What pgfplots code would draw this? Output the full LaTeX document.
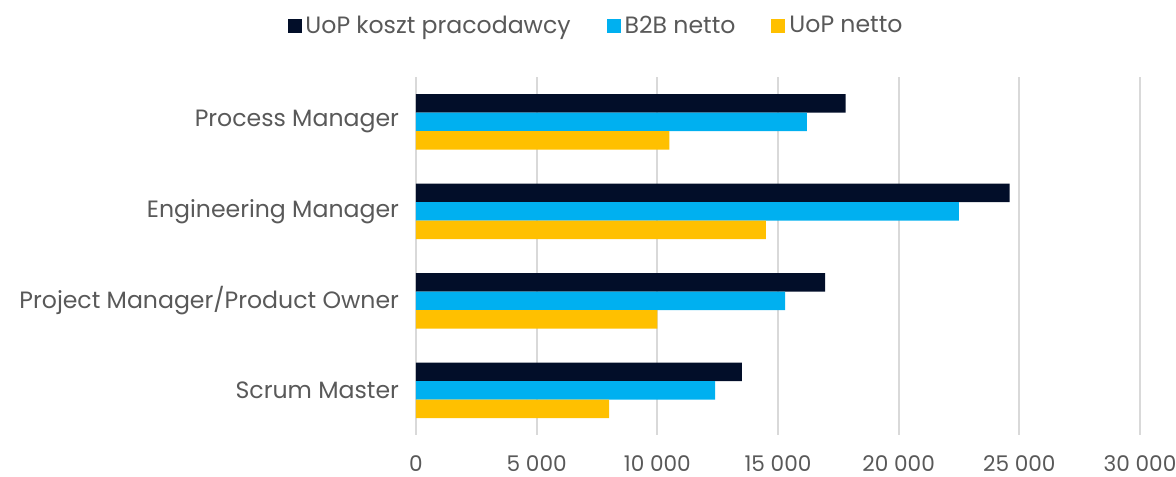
\documentclass[border=0pt]{standalone}
\usepackage{pgfplots}
\pgfplotsset{compat=1.18}
\usepackage{fontspec}
\setmainfont{Poppins}
\definecolor{cdark}{HTML}{020E29}
\definecolor{cblue}{HTML}{00B0F0}
\definecolor{cyell}{HTML}{FFC000}
\definecolor{ctext}{HTML}{595959}
\definecolor{cgrid}{HTML}{D9D9D9}
\begin{document}
\begin{tikzpicture}
\begin{axis}[
  name=ax,
  at={(0,0)}, anchor=south west,
  scale only axis,
  width=362bp, height=179bp,
  xbar, bar width=9.25bp,
  xmin=0, xmax=30000,
  ymin=-0.5, ymax=3.5,
  y dir=reverse,
  ytick={0,1,2,3},
  yticklabels={Process Manager, Engineering Manager, Project Manager/Product Owner, Scrum Master},
  xtick={0,5000,10000,15000,20000,25000,30000},
  scaled x ticks=false,
  /pgf/number format/1000 sep={\ },
  /pgf/number format/assume math mode=true,
  xticklabel style={font=\fontsize{10.8bp}{12bp}\selectfont, text=ctext, yshift=-7bp},
  yticklabel style={font=\fontsize{11.8bp}{13bp}\selectfont, text=ctext, xshift=-5bp},
  major tick length=0pt,
  axis line style={draw=none},
  xmajorgrids,
  grid style={cgrid, line width=0.9bp},
  legend columns=3,
  legend style={at={(0.25,1)}, anchor=center, yshift=25.5bp, draw=none,
    font=\fontsize{11.8bp}{13bp}\selectfont, text=ctext,
    /tikz/every even column/.append style={column sep=16bp}},
  legend image code/.code={\fill[#1] (0bp,-3.5bp) rectangle (7bp,3.5bp);},
]
\addplot[fill=cdark, draw=none, bar shift=9.25bp] coordinates {(17800,0) (24600,1) (16950,2) (13500,3)};
\addplot[fill=cblue, draw=none, bar shift=0bp] coordinates {(16200,0) (22500,1) (15300,2) (12400,3)};
\addplot[fill=cyell, draw=none, bar shift=-9.25bp] coordinates {(10500,0) (14500,1) (10000,2) (8000,3)};
\legend{UoP koszt pracodawcy, B2B netto, UoP netto}
\end{axis}
\pgfresetboundingbox
\path[use as bounding box] ([shift={(-208bp,-21bp)}]ax.south west) rectangle ([shift={(380bp,217.5bp)}]ax.south west);
\end{tikzpicture}
\end{document}
